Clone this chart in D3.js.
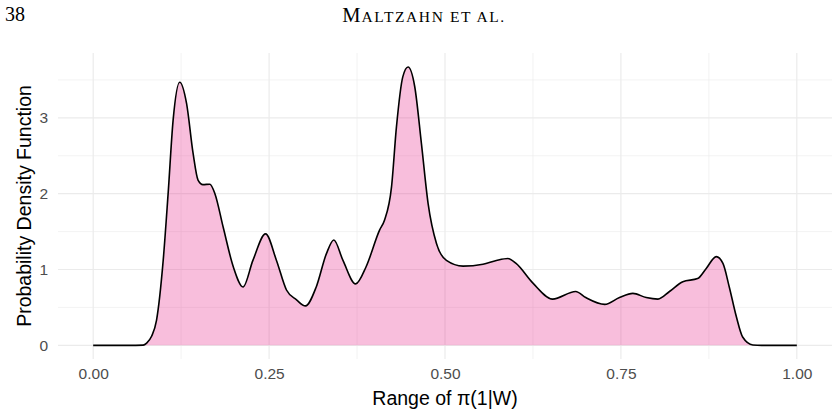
<!DOCTYPE html>
<html lang="en">
<head>
<meta charset="UTF-8">
<title>Density of pi(1|W)</title>
<script src="https://d3js.org/d3.v7.min.js"></script>
<style>
  body { margin: 0; background: #fff; }
  svg { display: block; }
  .tick text { font-family: "Liberation Sans", Arial, sans-serif; }
</style>
</head>
<body>
<svg id="chart" width="838" height="417"></svg>
<script>
// density curve
const xs = [0, 0.05, 0.071, 0.076, 0.083, 0.090, 0.0995, 0.1065, 0.1136, 0.123, 0.1327, 0.142, 0.149, 0.156,
  0.1658, 0.173, 0.1847, 0.199, 0.213, 0.227, 0.245, 0.2605, 0.2747, 0.289, 0.3017, 0.317, 0.3315, 0.342,
  0.355, 0.373, 0.388, 0.407, 0.414, 0.424, 0.431, 0.440, 0.4475, 0.457, 0.4665, 0.476, 0.488, 0.502,
  0.5256, 0.554, 0.573, 0.5895, 0.601, 0.625, 0.653, 0.6857, 0.700, 0.727, 0.748, 0.767, 0.786, 0.8026,
  0.819, 0.838, 0.859, 0.871, 0.8855, 0.895, 0.904, 0.914, 0.923, 0.9375, 0.95, 1.0];
const ys = [0, 0, 0.003, 0.03, 0.12, 0.33, 1.12, 2.0, 2.97, 3.47, 3.19, 2.53, 2.18, 2.12,
  2.125, 2.0, 1.56, 1.04, 0.77, 1.12, 1.47, 1.12, 0.73, 0.60, 0.52, 0.77, 1.21, 1.39,
  1.12, 0.81, 1.04, 1.52, 1.65, 2.09, 2.88, 3.54, 3.67, 3.41, 2.66, 1.87, 1.34, 1.12,
  1.045, 1.07, 1.12, 1.146, 1.08, 0.82, 0.61, 0.71, 0.63, 0.54, 0.63, 0.685, 0.63, 0.61,
  0.71, 0.84, 0.88, 1.01, 1.17, 1.08, 0.77, 0.38, 0.11, 0.005, 0, 0];

const xTicks = [0, 0.25, 0.5, 0.75, 1];
const xMinor = [0.125, 0.375, 0.625, 0.875];
const yTicks = [0, 1, 2, 3];
const yMinor = [0.5, 1.5, 2.5, 3.5];

const svg = d3.select("#chart");
const data = xs.map((x, i) => ({ x: x, y: ys[i] }));

const x = d3.scaleLinear().domain([-0.05, 1.05]).range([58, 832]);
const y = d3.scaleLinear().domain([-0.18, 3.855]).range([359, 53]);

const serif = "Liberation Serif, Times New Roman, serif";
const sans = "Liberation Sans, Arial, sans-serif";

// running head
svg.append("text").attr("x", 5).attr("y", 21)
  .attr("font-family", serif).attr("font-size", 20)
  .text("38");
const head = svg.append("text").attr("x", 424).attr("y", 22).attr("text-anchor", "middle")
  .attr("font-family", serif);
head.append("tspan").attr("font-size", 20.5).attr("letter-spacing", 1).text("M");
head.append("tspan").attr("font-size", 15.5).attr("letter-spacing", 1.6).text("ALTZAHN ET AL.");

// grid
const grid = svg.append("g");
grid.selectAll(".vminor").data(xMinor).enter().append("line")
  .attr("x1", d => x(d)).attr("x2", d => x(d)).attr("y1", 53).attr("y2", 359)
  .attr("stroke", "#ebebeb").attr("stroke-width", 0.6);
grid.selectAll(".hminor").data(yMinor).enter().append("line")
  .attr("x1", 58).attr("x2", 832).attr("y1", d => y(d)).attr("y2", d => y(d))
  .attr("stroke", "#ebebeb").attr("stroke-width", 0.6);
grid.selectAll(".vmajor").data(xTicks).enter().append("line")
  .attr("x1", d => x(d)).attr("x2", d => x(d)).attr("y1", 53).attr("y2", 359)
  .attr("stroke", "#ebebeb").attr("stroke-width", 1.2);
grid.selectAll(".hmajor").data(yTicks).enter().append("line")
  .attr("x1", 58).attr("x2", 832).attr("y1", d => y(d)).attr("y2", d => y(d))
  .attr("stroke", "#ebebeb").attr("stroke-width", 1.2);

// density
const area = d3.area().x(d => x(d.x)).y0(y(0)).y1(d => y(d.y)).curve(d3.curveMonotoneX);
const line = d3.line().x(d => x(d.x)).y(d => y(d.y)).curve(d3.curveMonotoneX);

svg.append("path").datum(data).attr("d", area)
  .attr("fill", "#e7298a").attr("fill-opacity", 0.3);
svg.append("path").datum(data).attr("d", line)
  .attr("fill", "none").attr("stroke", "#000").attr("stroke-width", 1.6);

// axes
const xAxis = svg.append("g").attr("transform", "translate(0,359)")
  .call(d3.axisBottom(x).tickValues(xTicks).tickFormat(d3.format(".2f")).tickSize(0).tickPadding(9));
const yAxis = svg.append("g").attr("transform", "translate(58,0)")
  .call(d3.axisLeft(y).tickValues(yTicks).tickFormat(d3.format("d")).tickSize(0).tickPadding(10));
[xAxis, yAxis].forEach(a => {
  a.select(".domain").remove();
  a.selectAll("text").attr("fill", "#4d4d4d").attr("font-size", 15.5);
});

// titles
svg.append("text").attr("x", 445).attr("y", 405).attr("text-anchor", "middle")
  .attr("font-family", sans).attr("font-size", 19.5)
  .text("Range of π(1|W)");
svg.append("text").attr("transform", "translate(31,206) rotate(-90)").attr("text-anchor", "middle")
  .attr("font-family", sans).attr("font-size", 19.5)
  .text("Probability Density Function");
</script>
</body>
</html>
